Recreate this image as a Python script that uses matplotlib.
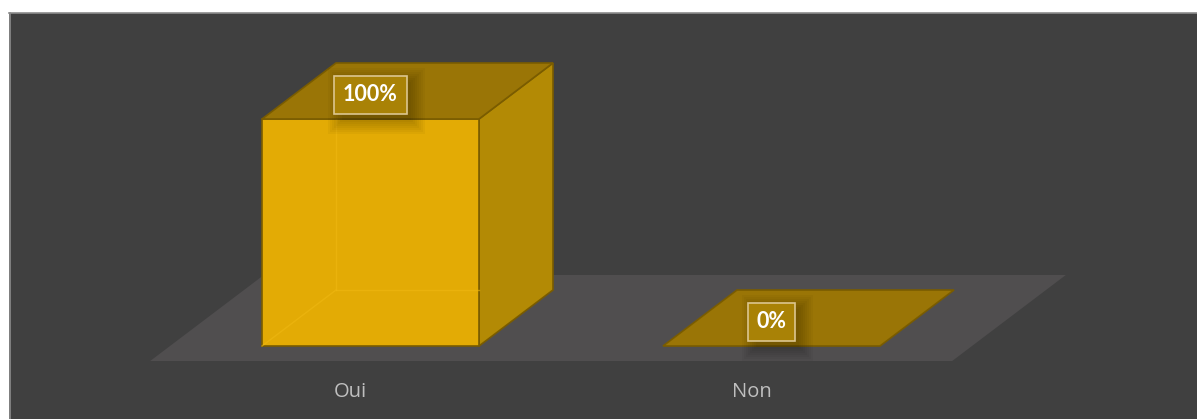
import matplotlib
matplotlib.use("Agg")
import matplotlib.pyplot as plt
from matplotlib.patches import Polygon, Rectangle
from matplotlib.transforms import IdentityTransform

# réponses et pourcentages
categories = ["Oui", "Non"]
values = [100, 0]
labels = ["100%", "0%"]

# couleurs des faces de la barre 3D
FRONT = "#e3ab05"
TOP = "#9a7506"
SIDE = "#b38a05"
EDGE = "#7a5c00"
FLOOR = "#504e4f"
PANEL = "#404040"

W = 1197 / 100
H = 419 / 100
fig = plt.figure(figsize=(W, H), dpi=100)
fig.patch.set_facecolor("white")

# fond sombre du graphique avec un filet clair en haut et à gauche
bg = fig.add_axes([0, 0, 1, 1], zorder=-5)
bg.set_xlim(0, 1197)
bg.set_ylim(419, 0)
bg.axis("off")
bg.add_patch(Rectangle((9, 13), 1200, 420, facecolor=PANEL, edgecolor="none"))
bg.plot([9, 1197], [13.5, 13.5], color="#8c8c8c", lw=1.2)
bg.plot([9.5, 9.5], [13, 419], color="#8c8c8c", lw=1.2)

ax = fig.add_axes([0, 0, 1, 1])
ax.set_facecolor("none")
# 1 catégorie = 401 px, 1 point de % = 2.27 px
px_x = 401.0
px_y = 2.27
ax.set_xlim(-370.5 / px_x, (1197 - 370.5) / px_x)
ax.set_ylim(-73 / px_y, (419 - 73) / px_y)
ax.axis("off")

bw = 217 / px_x          # largeur de la barre
dx = 74 / px_x           # décalage en profondeur
dy = 56 / px_y
fd = 0.268               # le sol dépasse devant et derrière les barres


def shift(p, d):
    return (p[0] + dx * d, p[1] + dy * d)


# sol
floor = [(-0.5 - dx * fd, -dy * fd), (1.5 - dx * fd, -dy * fd),
         (1.5 + dx * (1 + fd), dy * (1 + fd)), (-0.5 + dx * (1 + fd), dy * (1 + fd))]
ax.add_patch(Polygon(floor, closed=True, facecolor=FLOOR, edgecolor="none", zorder=1))

value_texts = []
for i, v in enumerate(values):
    l, r = i - bw / 2, i + bw / 2
    front = [(l, 0), (r, 0), (r, v), (l, v)]
    top = [(l, v), (r, v), shift((r, v), 1), shift((l, v), 1)]
    side = [(r, 0), shift((r, 0), 1), shift((r, v), 1), (r, v)]
    if v > 0:
        ax.add_patch(Polygon(side, closed=True, facecolor=SIDE, edgecolor=EDGE,
                             lw=1.2, zorder=2))
        ax.add_patch(Polygon(front, closed=True, facecolor=FRONT, edgecolor=EDGE,
                             lw=1.2, zorder=3))
        # arêtes cachées vues à travers la face avant
        bl = shift((l, 0), 1)
        ax.plot([l, bl[0]], [0, bl[1]], color="#efb812", lw=1, alpha=0.6, zorder=4)
        ax.plot([bl[0], bl[0]], [bl[1], v], color="#efb812", lw=1, alpha=0.6, zorder=4)
        ax.plot([bl[0], r], [bl[1], bl[1]], color="#efb812", lw=1, alpha=0.6, zorder=4)
    ax.add_patch(Polygon(top, closed=True, facecolor=TOP, edgecolor=EDGE,
                         lw=1.2, zorder=5))

    # étiquette de valeur
    t = ax.text(i, v + dy * 0.43, labels[i], fontsize=15.5, family="Lato",
                fontweight="bold", color="white", ha="center", va="center", zorder=7,
                bbox=dict(boxstyle="square,pad=0.4", facecolor="#a98206",
                          edgecolor="#dcc690", lw=1.2))
    value_texts.append(t)

    # nom de la catégorie, devant le sol
    ax.text(i - dx * fd, -(392 - 346) / px_y, categories[i], fontsize=14.5,
            family="Open Sans", color="#bfbfbf", ha="center", va="center", zorder=7)

# ombre douce sous les étiquettes
fig.canvas.draw()
for t in value_texts:
    bb = t.get_bbox_patch().get_window_extent()
    for k in range(8):
        g = 2 * k
        ax.add_patch(Rectangle((bb.x0 + 8 - g, bb.y0 - 6 - g),
                               bb.width - 4 + 2 * g, bb.height + 2 * g,
                               transform=IdentityTransform(), facecolor="black",
                               edgecolor="none", alpha=0.03, zorder=6))

fig.savefig("out.png", dpi=100, facecolor=fig.get_facecolor())
